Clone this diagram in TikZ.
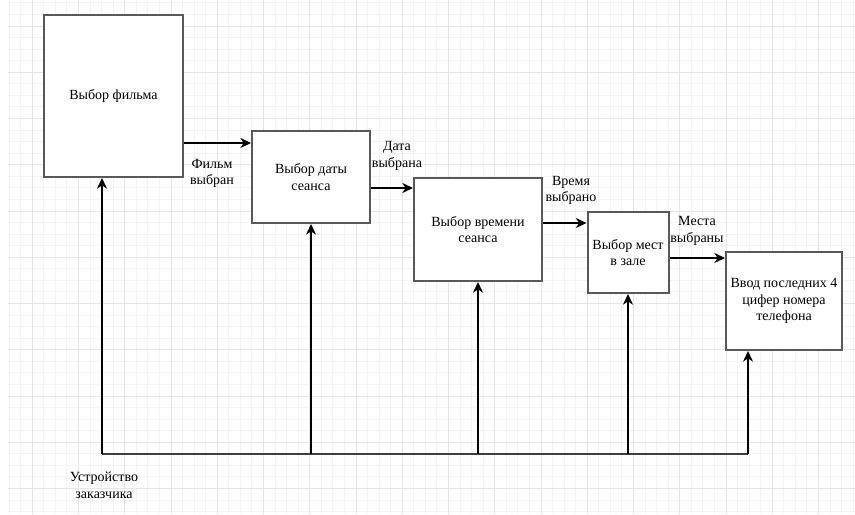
\documentclass[tikz,border=0pt]{standalone}
\usepackage{fontspec}
\setmainfont{Liberation Serif}
\usetikzlibrary{positioning, arrows.meta, calc}

\definecolor{gridminor}{HTML}{F4F4F4}
\definecolor{gridmajor}{HTML}{E6E6E6}

\tikzset{
  block/.style={draw=black!65, line width=1.5pt, fill=white, align=center, inner sep=2pt},
  flow/.style={-{Stealth[length=8pt, width=7.5pt, inset=2.5pt]}, line width=1.1pt},
  lbl/.style={align=center, inner sep=0pt},
}

\begin{document}
\begin{tikzpicture}[x=0.75pt, y=-0.75pt, font=\fontsize{10.5pt}{12.5pt}\selectfont]
  \useasboundingbox (0,0) rectangle (855,514);
  % background grid
  \begin{scope}
    \clip (8,0) rectangle (855,514);
    \foreach \i in {0,...,74} {
      \draw[gridminor, line width=0.75pt] (9.17+\i*11.5625,0) -- ++(0,514);
    }
    \foreach \i in {0,...,44} {
      \draw[gridminor, line width=0.75pt] (0,2.875+\i*11.5625) -- ++(855,0);
    }
    \foreach \i in {0,...,18} {
      \draw[gridmajor, line width=0.75pt] (32.3+\i*46.25,0) -- ++(0,514);
    }
    \foreach \i in {0,...,11} {
      \draw[gridmajor, line width=0.75pt] (0,26+\i*46.25) -- ++(855,0);
    }
  \end{scope}

  \node (film) [block, minimum width=104.25pt, minimum height=121.5pt] at (113.5,96) {Выбор фильма};
  \node (date) [block, minimum width=88.5pt, minimum height=69pt] at (311,177) {Выбор даты\\сеанса};
  \node (time) [block, minimum width=96pt, minimum height=77.25pt] at (478,229.5) {Выбор времени\\сеанса};
  \node (seats) [block, minimum width=60.75pt, minimum height=60.75pt] at (628,252.5) {Выбор мест\\в зале};
  \node (phone) [block, minimum width=87pt, minimum height=73.5pt] at (784,301) {Ввод последних 4\\цифер номера\\телефона};

  \node (film-done) [lbl] at (212,173.5) {Фильм\\выбран};
  \node (date-done) [lbl] at (397,156) {Дата\\выбрана};
  \node (time-done) [lbl] at (571,190.5) {Время\\выбрано};
  \node (seats-done) [lbl] at (697,231) {Места\\выбраны};
  \node (device) [lbl] at (104,485) {Устройство\\заказчика};

  \draw[flow] (film.east |- 0,143) -- (date.west |- 0,143);
  \draw[flow] (date.east |- 0,188) -- (time.west |- 0,188);
  \draw[flow] (time.east |- 0,223) -- (seats.west |- 0,223);
  \draw[flow] (seats.east |- 0,258) -- (phone.west |- 0,258);

  \coordinate (bus-l) at (102,454);
  \coordinate (bus-r) at (748,454);
  \draw[line width=1.5pt, black!75] (bus-l) -- (bus-r);
  \draw[flow] (bus-l) -- (bus-l |- film.south);
  \draw[flow] (date.south |- bus-l) -- (date.south);
  \draw[flow] (time.south |- bus-l) -- (time.south);
  \draw[flow] (seats.south |- bus-l) -- (seats.south);
  \draw[flow] (bus-r) -- (bus-r |- phone.south);
\end{tikzpicture}
\end{document}
